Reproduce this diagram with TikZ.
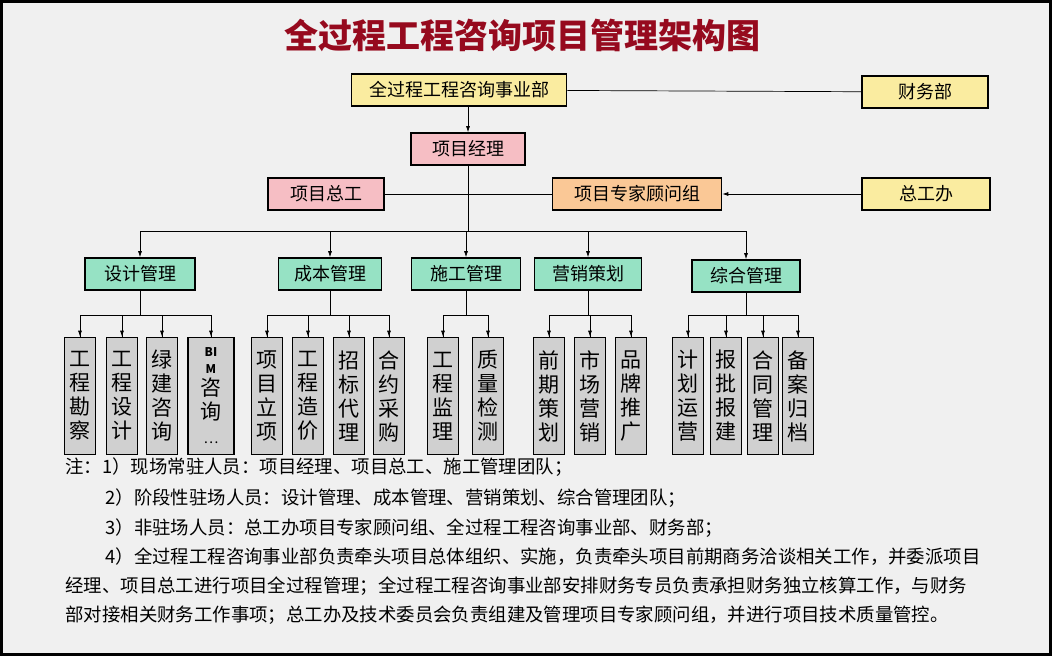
\documentclass[tikz,border=0pt]{standalone}
\usepackage{fontspec}
\setmainfont{Noto Sans CJK SC}
\usetikzlibrary{arrows.meta}
\definecolor{boxyellow}{RGB}{250,236,160}
\definecolor{boxpink}{RGB}{246,190,196}
\definecolor{boxorange}{RGB}{250,200,150}
\definecolor{boxgreen}{RGB}{150,226,196}
\definecolor{boxgray}{RGB}{208,208,208}
\definecolor{titlered}{RGB}{150,10,30}
\tikzset{
  unitbox/.style={draw=black, line width=1.6pt, minimum height=32pt, inner sep=0pt, font=\fontsize{18}{20}\selectfont},
  mgmtbox/.style={unitbox, fill=boxgreen, minimum width=108pt},
  leafbox/.style={draw=black, line width=1.6pt, fill=boxgray, minimum width=31pt, minimum height=117pt, inner sep=0pt, align=center, font=\fontsize{21}{24}\selectfont},
  link/.style={line width=0.7pt, -{Latex[length=6pt,width=4pt]}},
  noteline/.style={anchor=west, font=\fontsize{18.4}{20}\selectfont}
}
\begin{document}
\begin{tikzpicture}[x=1pt, y=-1pt]
  % Hintergrund
  \fill[black] (0,0) rectangle (1052,656);
  \fill[gray!12] (3,3) rectangle (1049,653);
  \useasboundingbox (0,0) rectangle (1052,656);

  % Titel
  \node[font=\fontsize{34}{36}\selectfont\bfseries, text=titlered] (title) at (522,35) {全过程工程咨询项目管理架构图};

  % obere Ebene
  \node[unitbox, fill=boxyellow, minimum width=215pt] (dept) at (459,90) {全过程工程咨询事业部};
  \node[unitbox, fill=boxyellow, minimum width=126pt] (fin) at (925,92) {财务部};
  \node[unitbox, fill=boxpink, minimum width=114pt] (pm) at (468,149) {项目经理};
  \node[unitbox, fill=boxpink, minimum width=116pt] (chief) at (326,194) {项目总工};
  \node[unitbox, fill=boxorange, minimum width=169pt] (expert) at (637,194) {项目专家顾问组};
  \node[unitbox, fill=boxyellow, minimum width=128pt] (office) at (926,194) {总工办};

  \draw[line width=0.7pt] (dept) -- (fin);
  \draw[link] (dept.south -| pm) -- (pm);
  \draw[line width=0.7pt] (chief) -- (expert);
  \draw[link] (office) -- (expert);

  % Management
  \node[mgmtbox, minimum width=110pt] (design) at (140,274) {设计管理};
  \node[mgmtbox, minimum width=103pt] (cost) at (330,274) {成本管理};
  \node[mgmtbox, minimum width=109pt] (build) at (466,274) {施工管理};
  \node[mgmtbox, minimum width=107pt] (market) at (588,274) {营销策划};
  \node[mgmtbox, minimum width=108pt] (general) at (746,276) {综合管理};

  \coordinate (bus) at (468,231);
  \draw[line width=0.7pt] (pm) -- (bus);
  \draw[line width=0.7pt] (design |- bus) -- (general |- bus);
  \foreach \m in {design,cost,build,market,general}
    \draw[link] (\m |- bus) -- (\m);

  % Blattknoten
  \foreach \name/\x/\txt/\up in {
      d1/80/工\\程\\勘\\察/design, d2/122/工\\程\\设\\计/design, d3/162/绿\\建\\咨\\询/design,
      c1/267/项\\目\\立\\项/cost, c2/308/工\\程\\造\\价/cost, c3/349/招\\标\\代\\理/cost, c4/389/合\\约\\采\\购/cost,
      b1/443/工\\程\\监\\理/build, b2/488/质\\量\\检\\测/build,
      s1/549/前\\期\\策\\划/market, s2/590/市\\场\\营\\销/market, s3/631/品\\牌\\推\\广/market,
      g1/688/计\\划\\运\\营/general, g2/726/报\\批\\报\\建/general, g3/763/合\\同\\管\\理/general, g4/798/备\\案\\归\\档/general} {
    \node[leafbox] (\name) at (\x,396) {\txt};
    \draw[line width=0.7pt] (\up) -- (\up |- 0,315) -| (\name);
    \draw[link] (\name |- 0,315) -- (\name);
  }
  \node[leafbox, minimum width=46pt] (d4) at (211,396)
    {{\fontsize{12}{12}\selectfont\bfseries BI}\\[-7pt]{\fontsize{12}{12}\selectfont\bfseries M}\\[-2pt]咨\\询\\{\fontsize{14}{14}\selectfont …}};
  \draw[line width=0.7pt] (design) -- (design |- 0,315) -| (d4);
  \draw[link] (d4 |- 0,315) -- (d4);

  % Anmerkungen
  \node[noteline] (n1) at (62,467) {注：1）现场常驻人员：项目经理、项目总工、施工管理团队；};
  \node[noteline] (n2) at (102,498) {2）阶段性驻场人员：设计管理、成本管理、营销策划、综合管理团队；};
  \node[noteline] (n3) at (102,528) {3）非驻场人员：总工办项目专家顾问组、全过程工程咨询事业部、财务部；};
  \node[noteline] (n4) at (102,557) {4）全过程工程咨询事业部负责牵头项目总体组织、实施，负责牵头项目前期商务洽谈相关工作，并委派项目};
  \node[noteline] (n5) at (62,586) {经理、项目总工进行项目全过程管理；全过程工程咨询事业部安排财务专员负责承担财务独立核算工作，与财务};
  \node[noteline] (n6) at (62,615) {部对接相关财务工作事项；总工办及技术委员会负责组建及管理项目专家顾问组，并进行项目技术质量管控。};
\end{tikzpicture}
\end{document}
